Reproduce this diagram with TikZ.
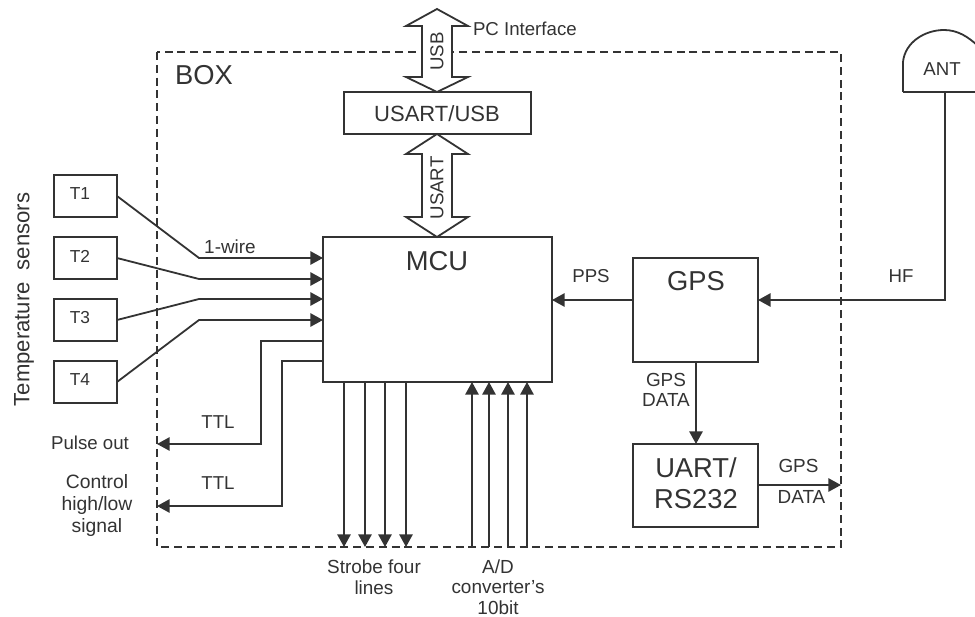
\documentclass[tikz,border=0pt]{standalone}
\usepackage{fontspec}
\setmainfont{Liberation Sans}
\usetikzlibrary{arrows.meta}
\definecolor{ink}{gray}{0.2}
\tikzset{
  x=0.75pt,y=-0.75pt,
  every node/.style={text=ink,inner sep=0pt,outer sep=0pt},
  line/.style={draw=ink,line width=1.35pt},
  arr/.style={line,-{Triangle[length=9.5pt,width=10pt]}},
  boxnode/.style={line,fill=white,anchor=north west},
  huge/.style={font=\fontsize{20.5pt}{23pt}\selectfont,align=center},
  big/.style={font=\fontsize{16.5pt}{20pt}\selectfont,align=center},
  med/.style={font=\fontsize{14pt}{16pt}\selectfont,align=center},
  tlab/.style={font=\fontsize{13pt}{15pt}\selectfont,align=center},
  small/.style={font=\fontsize{14.2pt}{15.5pt}\selectfont,align=center},
  wide/.style={font=\fontsize{14.5pt}{16.5pt}\selectfont,align=center},
  fat/.style={line,fill=white,line join=miter},
}
\newcommand{\boxat}[6][]{\node[boxnode,minimum width=#4*0.75pt,minimum height=#5*0.75pt,#1] (#6) at (#2,#3) {};}
\begin{document}
\begin{tikzpicture}
\useasboundingbox (0,0) rectangle (975,617);
\fill[white] (0,0) rectangle (975,617);
% enclosure
\draw[draw=ink,line width=1.2pt,dash pattern=on 6pt off 3.6pt] (157,52) rectangle (841,547);
% boxes
\boxat{344}{92}{187}{42}{usb}
\boxat{323}{237}{229}{145}{mcu}
\boxat{633}{258}{125}{104}{gps}
\boxat{633}{444}{125}{83}{uart}
\boxat{54}{175}{63}{42}{t1}
\boxat{54}{237}{63}{42}{t2}
\boxat{54}{299}{63}{42}{t3}
\boxat{54}{361}{63}{42}{t4}
% double arrows
\draw[fat] (437,9) -- (468,26) -- (452,26) -- (452,77) -- (468,77) -- (437,92) -- (406,77) -- (422,77) -- (422,26) -- (406,26) -- cycle;
\draw[fat] (437,134) -- (468,154) -- (452,154) -- (452,217) -- (468,217) -- (437,237) -- (406,217) -- (422,217) -- (422,154) -- (406,154) -- cycle;
\node[med,rotate=90] (lusb) at (437,51.5) {USB};
\node[med,rotate=90] (lusart) at (437,188) {USART};
\node[med,anchor=west] (lpc) at (473,28.5) {PC Interface};
% antenna
\coordinate (ant) at (945,92);
\begin{scope}
\clip (0,0) rectangle (975,617);
\draw[line] (903,92) -- (903,62) .. controls (905,42) and (925,30) .. (944,30) .. controls (957,30) and (968,36) .. (980,48);
\draw[line] (903,92) -- (980,92);
\end{scope}
% sensor lines
\coordinate (j1) at (199,258); \coordinate (j2) at (199,279); \coordinate (j3) at (199,299); \coordinate (j4) at (199,320);
\draw[arr] (t1.east) -- (j1) -- (mcu.west |- j1);
\draw[arr] (t2.east) -- (j2) -- (mcu.west |- j2);
\draw[arr] (t3.east) -- (j3) -- (mcu.west |- j3);
\draw[arr] (t4.east) -- (j4) -- (mcu.west |- j4);
% TTL
\coordinate (p1) at (157,444); \coordinate (p2) at (157,506);
\draw[arr] (mcu.west |- 0,341) -- (261,341) -- (261,444) -- (p1);
\draw[arr] (mcu.west |- 0,361) -- (282,361) -- (282,506) -- (p2);
% strobe
\foreach \x in {344,365,385,406} \draw[arr] (\x,382) -- (\x,547);
\foreach \x in {472,489,508,527} \draw[arr] (\x,547) -- (\x,382);
% right side
\draw[arr] (gps.west |- 0,300) -- (mcu.east |- 0,300);
\draw[arr] (ant) -- (945,300) -- (gps.east |- 0,300);
\draw[arr] (696,362) -- (696,444);
\coordinate (o) at (841,485);
\draw[arr] (uart.east |- o) -- (o);
% texts
\node[huge] (tbox) at (204,75) {BOX};
\node[big] (tusb) at (437,114) {USART/USB};
\node[huge] (tmcu) at (437,261) {MCU};
\node[huge] (tgps) at (696,281) {GPS};
\node[huge] (tuart) at (696,483) {UART/\\RS232};
\node[tlab] (n1) at (80,194) {T1};
\node[tlab] (n2) at (80,256) {T2};
\node[tlab] (n3) at (80,318) {T3};
\node[tlab] (n4) at (80,380) {T4};
\node[med] (tant) at (942,69) {ANT};
\node[rotate=90,font=\fontsize{16.6pt}{20pt}\selectfont] (ttemp) at (24,299.5) {Temperature\hspace{9pt}sensors};
\node[small] (l1w) at (230,247) {1-wire};
\node[med] (lttl1) at (218,422) {TTL};
\node[med] (lttl2) at (218,483) {TTL};
\node[med] (lpulse) at (90,443) {Pulse out};
\node[wide] (lctl) at (97,505) {Control\\high/low\\signal};
\node[small] (lstrobe) at (374,577) {Strobe four\\lines};
\node[small] (lad) at (498,587) {A/D\\converter's\\10bit};
\node[med] (lpps) at (591,276) {PPS};
\node[med] (lhf) at (901,276) {HF};
\node[small] (lgd1) at (666,390) {GPS\\DATA};
\node[small] (lgd2) at (798.5,466) {GPS};
\node[small] (lgd3) at (801.5,497) {DATA};
\end{tikzpicture}
\end{document}
